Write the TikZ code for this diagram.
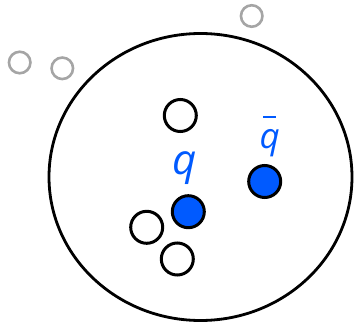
\documentclass[tikz,border=0pt]{standalone}
\usepackage{fontspec}
\setmainfont{Open Sans}
\definecolor{qblue}{RGB}{0,90,255}
\definecolor{lgray}{RGB}{165,165,165}
\newcommand{\barq}{{\setbox0\hbox{\itshape q}\vbox{\offinterlineskip\hbox to\wd0{\hss\kern0pt\vrule width 13pt height 2.2pt\hss}\kern 11.5pt\box0}}}
\begin{document}
\begin{tikzpicture}[x=1pt,y=-1pt,
  ghost/.style={circle,draw=lgray,line width=2.6pt,minimum size=21.5pt,inner sep=0pt},
  hadron/.style={circle,draw=black,line width=3pt,minimum size=32pt,inner sep=0pt,fill=white},
  quark/.style={circle,draw=black,line width=3pt,minimum size=32pt,inner sep=0pt,fill=qblue},
  lbl/.style={text=qblue,inner sep=0pt,anchor=base}]
\useasboundingbox (0,0) rectangle (360,324);
\draw[line width=2.8pt] (200.5,177) ellipse [x radius=151.5pt, y radius=143.5pt];
\node[ghost] (g1) at (19.7,62.5) {};
\node[ghost] (g2) at (62.3,68.3) {};
\node[ghost] (g3) at (251.7,16) {};
\node[hadron] (h1) at (180.3,115.5) {};
\node[hadron] (h2) at (146.7,227.3) {};
\node[hadron] (h3) at (177.3,259) {};
\node[quark] (q) at (188.3,211.7) {};
\node[quark] (qb) at (264.7,181.5) {};
\node[lbl,font=\fontsize{42}{46}\selectfont\itshape] (lq) at (184.5,175) {q};
\node[lbl,font=\fontsize{35}{38}\selectfont\itshape] (lqb) at (269.7,148.5) {\barq};
\end{tikzpicture}
\end{document}
